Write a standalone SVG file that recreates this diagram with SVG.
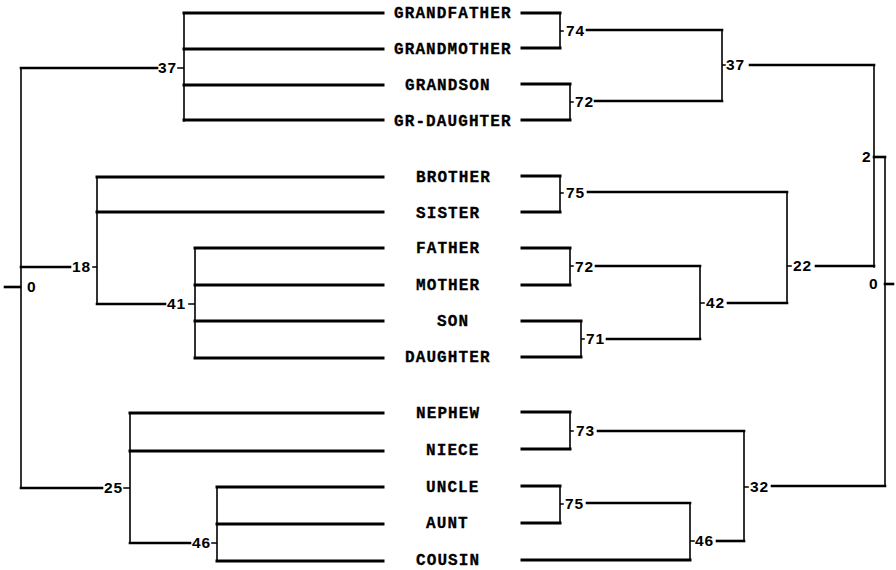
<svg xmlns="http://www.w3.org/2000/svg" width="896" height="570" viewBox="0 0 896 570">
  <style>
    .leaf { font-family: "Liberation Mono", "DejaVu Sans Mono", monospace; font-weight: bold; font-size: 16px; letter-spacing: 1.1px; fill: #000; stroke: #000; stroke-width: 0.3; }
    .num { font-family: "Liberation Sans", Arial, sans-serif; font-weight: bold; font-size: 15.5px; letter-spacing: 0.8px; fill: #000; }
    .thick { stroke: #000; stroke-width: 3; fill: none; stroke-linecap: square; }
    .mid { stroke: #000; stroke-width: 2.6; fill: none; stroke-linecap: square; }
    .thin { stroke: #000; stroke-width: 1.6; fill: none; stroke-linecap: square; }
  </style>
  <rect width="896" height="570" fill="#fff"/>

  <g id="connectors">
    <!-- left tree: leaf bars -->
    <g class="thick">
      <path d="M184 13H383M184 49H383M184 85H383M184 120H383"/>
      <path d="M97 177H383M97 212H383"/>
      <path d="M195 248H383M195 285H383M195 321H383M195 358H383"/>
      <path d="M130 413H383M130 451H383"/>
      <path d="M217 487H383M217 524H383M217 561H383"/>
    </g>
    <!-- left tree: joins -->
    <g class="mid">
      <path d="M21 68H157"/>
      <path d="M21 267H70"/>
      <path d="M97 304H165"/>
      <path d="M21 488H102"/>
      <path d="M130 543H190"/>
      <path d="M5 287H20"/>
    </g>
    <g class="thin">
      <path d="M184 13V121M178 68H184"/>
      <path d="M21 68V488"/>
      <path d="M97 177V304M93 267H97"/>
      <path d="M195 248V358M189 304H195"/>
      <path d="M130 413V543M124 488H130"/>
      <path d="M217 487V561M212 543H217"/>
    </g>

    <!-- right tree: leaf bars -->
    <g class="thick">
      <path d="M522 13H560M522 48H560"/>
      <path d="M522 84H570M522 120H570"/>
      <path d="M522 176H560M522 212H560"/>
      <path d="M522 248H570M522 285H570"/>
      <path d="M522 321H581M522 357H581"/>
      <path d="M522 412H570M522 449H570"/>
      <path d="M522 486H560M522 523H560"/>
      <path d="M522 560H690"/>
    </g>
    <!-- right tree: joins -->
    <g class="mid">
      <path d="M587 30H722"/>
      <path d="M595 101H722"/>
      <path d="M750 65H874"/>
      <path d="M588 192H787"/>
      <path d="M596 266H700"/>
      <path d="M607 339H700"/>
      <path d="M728 303H787"/>
      <path d="M816 266H874"/>
      <path d="M598 431H744"/>
      <path d="M587 503H690"/>
      <path d="M717 541H744"/>
      <path d="M772 486H885"/>
      <path d="M874 157H885"/>
      <path d="M885 284H893"/>
    </g>
    <g class="thin">
      <path d="M560 13V48M560 31H563"/>
      <path d="M570 84V120M570 102H573"/>
      <path d="M722 30V101M722 65H725"/>
      <path d="M560 176V212M560 193H563"/>
      <path d="M570 248V285M570 266H573"/>
      <path d="M581 321V357M581 339H584"/>
      <path d="M700 266V339M700 303H704"/>
      <path d="M787 192V303M787 266H791"/>
      <path d="M874 65V267"/>
      <path d="M885 157V486"/>
      <path d="M570 412V449M570 431H573"/>
      <path d="M560 486V523M560 504H563"/>
      <path d="M690 503V560M690 541H694"/>
      <path d="M744 431V541M744 487H748"/>
    </g>
  </g>

  <!-- leaf labels -->
  <g id="grandfather"><text class="leaf" x="394" y="18">GRANDFATHER</text></g>
  <g id="grandmother"><text class="leaf" x="394" y="54">GRANDMOTHER</text></g>
  <g id="grandson"><text class="leaf" x="405" y="90">GRANDSON</text></g>
  <g id="gr-daughter"><text class="leaf" x="394" y="126">GR-DAUGHTER</text></g>
  <g id="brother"><text class="leaf" x="416" y="182">BROTHER</text></g>
  <g id="sister"><text class="leaf" x="416" y="218">SISTER</text></g>
  <g id="father"><text class="leaf" x="416" y="253">FATHER</text></g>
  <g id="mother"><text class="leaf" x="416" y="290">MOTHER</text></g>
  <g id="son"><text class="leaf" x="437" y="326">SON</text></g>
  <g id="daughter"><text class="leaf" x="405" y="362">DAUGHTER</text></g>
  <g id="nephew"><text class="leaf" x="416" y="418">NEPHEW</text></g>
  <g id="niece"><text class="leaf" x="426" y="455">NIECE</text></g>
  <g id="uncle"><text class="leaf" x="426" y="492">UNCLE</text></g>
  <g id="aunt"><text class="leaf" x="426" y="528">AUNT</text></g>
  <g id="cousin"><text class="leaf" x="416" y="565">COUSIN</text></g>

  <!-- left tree: join values -->
  <g id="left-37"><text class="num" x="158" y="73">37</text></g>
  <g id="left-0"><text class="num" x="27" y="292">0</text></g>
  <g id="left-18"><text class="num" x="72" y="272">18</text></g>
  <g id="left-41"><text class="num" x="167" y="309">41</text></g>
  <g id="left-25"><text class="num" x="104" y="493">25</text></g>
  <g id="left-46"><text class="num" x="192" y="548">46</text></g>

  <!-- right tree: join values -->
  <g id="right-74"><text class="num" x="566" y="36">74</text></g>
  <g id="right-72a"><text class="num" x="575" y="107">72</text></g>
  <g id="right-37"><text class="num" x="726" y="70">37</text></g>
  <g id="right-2"><text class="num" x="862" y="162">2</text></g>
  <g id="right-75a"><text class="num" x="566" y="198">75</text></g>
  <g id="right-72b"><text class="num" x="575" y="272">72</text></g>
  <g id="right-71"><text class="num" x="586" y="344">71</text></g>
  <g id="right-42"><text class="num" x="706" y="308">42</text></g>
  <g id="right-22"><text class="num" x="793" y="271">22</text></g>
  <g id="right-0"><text class="num" x="869" y="289">0</text></g>
  <g id="right-73"><text class="num" x="576" y="436">73</text></g>
  <g id="right-75b"><text class="num" x="565" y="509">75</text></g>
  <g id="right-46"><text class="num" x="695" y="546">46</text></g>
  <g id="right-32"><text class="num" x="750" y="492">32</text></g>
</svg>
